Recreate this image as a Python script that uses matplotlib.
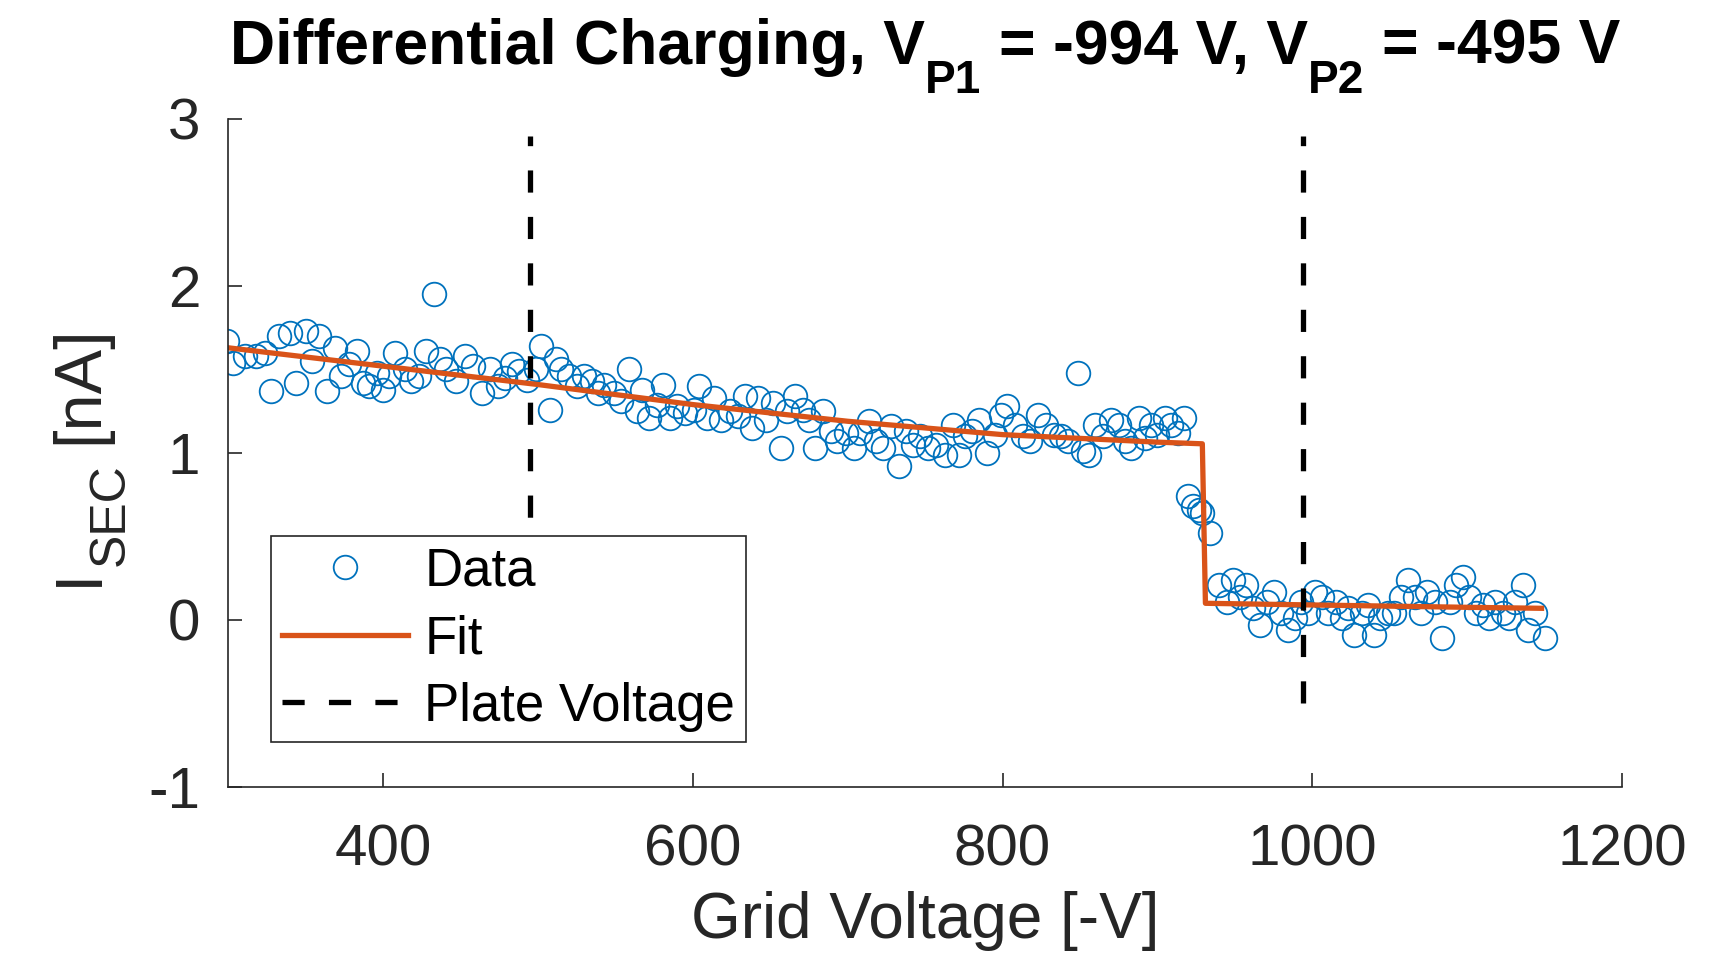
import matplotlib
matplotlib.use("Agg")
import matplotlib.pyplot as plt
from matplotlib.lines import Line2D

plt.rcParams['font.family'] = ['Liberation Sans', 'DejaVu Sans']
plt.rcParams['axes.unicode_minus'] = False

# ---- data ----
data_x = [299, 303, 311, 318, 324, 328, 333, 340, 344, 350, 354, 359, 364, 369, 373, 378,
          383, 387, 391, 396, 400, 404, 408, 414, 418, 423, 428, 433, 437, 441, 447, 453,
          458, 464, 469, 474, 479, 483, 488, 493, 499, 502, 508, 512, 515, 520, 525, 530,
          535, 539, 543, 549, 554, 559, 564, 567, 572, 577, 581, 585, 590, 595, 601, 604,
          609, 614, 618, 624, 629, 634, 638, 642, 647, 652, 657, 661, 666, 671, 675, 679,
          684, 689, 693, 699, 704, 708, 714, 718, 723, 728, 733, 738, 742, 747, 752, 757,
          763, 768, 772, 776, 780, 785, 790, 795, 799, 803, 808, 813, 818, 823, 828, 833,
          838, 842, 849, 852, 856, 860, 865, 870, 875, 879, 883, 888, 892, 896, 900, 905,
          909, 913, 917, 920, 923, 927, 929, 934, 940, 945, 949, 953, 957, 962, 966, 971,
          975, 980, 984, 989, 993, 997, 1002, 1006, 1010, 1015, 1019, 1023, 1027, 1032,
          1036, 1040, 1044, 1049, 1053, 1057, 1062, 1066, 1070, 1074, 1079, 1084, 1089,
          1093, 1097, 1101, 1106, 1110, 1114, 1118, 1123, 1127, 1131, 1136, 1139, 1144, 1150]
data_y = [1.67, 1.54, 1.58, 1.58, 1.60, 1.37, 1.70, 1.72, 1.42, 1.73, 1.55, 1.70, 1.37, 1.63, 1.46, 1.53,
          1.61, 1.42, 1.40, 1.48, 1.38, 1.46, 1.60, 1.50, 1.43, 1.46, 1.61, 1.95, 1.56, 1.50, 1.43, 1.58,
          1.52, 1.36, 1.50, 1.40, 1.45, 1.53, 1.49, 1.44, 1.50, 1.64, 1.26, 1.56, 1.50, 1.46, 1.40, 1.46,
          1.43, 1.36, 1.41, 1.36, 1.31, 1.50, 1.25, 1.38, 1.21, 1.29, 1.41, 1.21, 1.28, 1.24, 1.26, 1.40,
          1.21, 1.33, 1.20, 1.25, 1.22, 1.34, 1.15, 1.33, 1.20, 1.30, 1.03, 1.25, 1.34, 1.26, 1.20, 1.03,
          1.25, 1.13, 1.07, 1.12, 1.03, 1.12, 1.19, 1.07, 1.03, 1.16, 0.92, 1.13, 1.05, 1.10, 1.03, 1.05,
          0.99, 1.17, 0.99, 1.10, 1.13, 1.20, 1.00, 1.11, 1.23, 1.28, 1.17, 1.10, 1.07, 1.23, 1.17, 1.11,
          1.10, 1.07, 1.48, 1.01, 0.99, 1.17, 1.10, 1.20, 1.17, 1.07, 1.03, 1.21, 1.09, 1.17, 1.11, 1.21,
          1.17, 1.12, 1.21, 0.74, 0.68, 0.66, 0.64, 0.52, 0.21, 0.11, 0.24, 0.14, 0.21, 0.07, -0.03, 0.11,
          0.17, 0.04, -0.06, 0.01, 0.11, 0.04, 0.17, 0.14, 0.04, 0.11, 0.01, 0.07, -0.09, 0.04,
          0.09, -0.09, 0.01, 0.04, 0.04, 0.14, 0.24, 0.14, 0.04, 0.17, 0.11, -0.11, 0.11,
          0.21, 0.26, 0.14, 0.04, 0.09, 0.01, 0.11, 0.04, 0.01, 0.11, 0.21, -0.06, 0.04, -0.11]

fit_x = [300, 400, 500, 600, 700, 800, 900, 929, 931, 1000, 1050, 1100, 1148]
fit_y = [1.63, 1.52, 1.41, 1.29, 1.19, 1.11, 1.065, 1.055, 0.10, 0.09, 0.083, 0.076, 0.07]

plate_voltages = [495, 994]
plate_span = [-0.5, 2.9]

xticks = [400, 600, 800, 1000, 1200]
yticks = [-1, 0, 1, 2, 3]

blue = '#0072BD'
orange = '#D95319'
dark = '#262626'

W, H, DPI = 17.33, 9.58, 100
fig = plt.figure(figsize=(W, H), dpi=DPI)
ax = fig.add_axes([0.1316, 0.1785, 0.8044, 0.6973])

ax.plot(data_x, data_y, 'o', mfc='none', mec=blue, ms=17, mew=1.3, label='Data')
ax.plot(fit_x, fit_y, '-', color=orange, lw=3.8, label='Fit')
for i, pv in enumerate(plate_voltages):
    ax.plot([pv, pv], plate_span, color='black', lw=3.8, ls=(0, (4.2, 4.6)),
            label='Plate Voltage' if i == 0 else None)

ax.set_xlim(300, 1200)
ax.set_ylim(-1, 3)
ax.set_xticks(xticks)
ax.set_yticks(yticks)
ax.tick_params(direction='in', length=10, width=1.2, labelsize=42, colors=dark)
ax.tick_params(axis='x', pad=26)
ax.tick_params(axis='y', pad=20)
for s in ['top', 'right']:
    ax.spines[s].set_visible(False)
for s in ['left', 'bottom']:
    ax.spines[s].set_linewidth(1.2)
    ax.spines[s].set_color(dark)

ax.set_xlabel('Grid Voltage [-V]', fontsize=46, color=dark, labelpad=10)

handles = [Line2D([], [], ls='none', marker='o', mfc='none', mec=blue, ms=17, mew=1.3),
           Line2D([], [], color=orange, lw=3.8),
           Line2D([], [], color='black', lw=3.8, ls=(0, (4.2, 4.6)))]
leg = ax.legend(handles, ['Data', 'Fit', 'Plate Voltage'], loc='lower left',
                bbox_to_anchor=(0.031, 0.067), fontsize=38, frameon=True, fancybox=False,
                edgecolor=dark, framealpha=1, borderpad=0.2, labelspacing=0.33,
                handlelength=2.4, handletextpad=0.3, borderaxespad=0)
leg.get_frame().set_linewidth(1.2)

renderer = fig.canvas.get_renderer()
fw, fh = W * DPI, H * DPI


def text_width(t):
    return t.get_window_extent(renderer).width


def space_px(size):
    return 0.278 * size * DPI / 72.0


# ---- title built from pieces (large, lowered subscripts) ----
tmain, tsub = 45, 33
pieces = [("Differential Charging, V", tmain, 0, 0),
          ("P1", tsub, -29, 0),
          ("= -994 V, V", tmain, 0, 1),
          ("P2", tsub, -29, 0),
          ("= -495 V", tmain, 0, 1)]
objs = []
total = 0
for s, size, dy, lead in pieces:
    t = fig.text(0, 0, s, fontsize=size, fontweight='bold', color='black',
                 ha='left', va='baseline')
    w = text_width(t)
    lead_px = space_px(tmain) * lead
    objs.append((t, lead_px, dy))
    total += lead_px + w
x_center = 925.0
y_base = fh - 64.0
x = x_center - total / 2
for t, lead_px, dy in objs:
    x += lead_px
    t.set_position((x / fw, (y_base + dy) / fh))
    x += text_width(t)

# ---- y label built from pieces (rotated) ----
ymain, ysub = 48, 36
x_base = 97.0
y0 = fh - 586.0
t1 = fig.text(x_base / fw, y0 / fh, "I", fontsize=ymain, color=dark, rotation=90,
              rotation_mode='anchor', ha='left', va='baseline')
h1 = t1.get_window_extent(renderer).height
t2 = fig.text((x_base + 27) / fw, (y0 + h1 + 2) / fh, "SEC", fontsize=ysub, color=dark,
              rotation=90, rotation_mode='anchor', ha='left', va='baseline')
h2 = t2.get_window_extent(renderer).height
t3 = fig.text(x_base / fw, (y0 + h1 + 2 + h2 + space_px(ymain)) / fh, "[nA]", fontsize=ymain,
              color=dark, rotation=90, rotation_mode='anchor', ha='left', va='baseline')

fig.savefig('out.png', dpi=DPI)
